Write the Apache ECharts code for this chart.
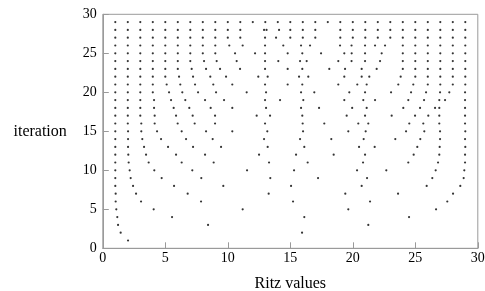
<!DOCTYPE html>
<html>
<head>
<meta charset="utf-8">
<script src="https://cdn.jsdelivr.net/npm/echarts@6/dist/echarts.min.js"></script>
<style>html,body{margin:0;padding:0;background:#fff}#c{width:485px;height:291px}</style>
</head>
<body>
<div id="c"></div>
<script>
const xTicks = [0, 5, 10, 15, 20, 25, 30];
const yTicks = [0, 5, 10, 15, 20, 25, 30];
const it1 = [2.02];
const it2 = [1.43, 15.94];
const it3 = [1.22, 8.42, 21.24];
const it4 = [1.16, 5.54, 16.12, 24.5];
const it5 = [1.08, 4.07, 11.19, 19.64, 26.66];
const it6 = [1.03, 3.06, 7.86, 15.22, 21.38, 27.56];
const it7 = [1.03, 2.66, 6.79, 13.27, 19.40, 23.62, 28.02];
const it8 = [1.0, 2.42, 5.70, 9.64, 15.06, 20.71, 25.91, 28.6];
const it9 = [1.0, 2.23, 4.71, 7.88, 13.40, 17.22, 21.14, 26.36, 28.87];
const it10 = [1.0, 2.15, 4.12, 7.16, 11.54, 15.30, 20.34, 22.68, 26.63, 28.92];
const it11 = [1.0, 2.07, 3.67, 6.31, 8.87, 13.30, 16.39, 20.82, 24.44, 26.82, 28.98];
const it12 = [1.0, 2.04, 3.46, 5.86, 8.18, 12.50, 15.46, 18.47, 20.98, 24.87, 26.92, 28.98];
const it13 = [1.0, 2.02, 3.30, 5.22, 7.22, 9.46, 13.19, 16.12, 20.50, 21.75, 25.16, 26.95, 29.0];
const it14 = [1.0, 2.02, 3.16, 4.66, 6.66, 8.79, 12.90, 15.78, 18.28, 20.87, 23.40, 25.40, 26.98, 28.98];
const it15 = [1.0, 2.02, 3.08, 4.34, 6.31, 8.26, 10.36, 13.16, 16.02, 19.64, 21.03, 24.26, 25.72, 26.98, 29.0];
const it16 = [1, 2, 3.08, 4.15, 5.99, 7.35, 8.98, 12.98, 15.99, 17.72, 20.44, 21.24, 24.52, 25.64, 26.92, 28.98];
const it17 = [1, 2, 3, 4.15, 5.86, 7.19, 8.98, 12.31, 13.38, 15.96, 19.51, 20.98, 23.11, 24.98, 26.04, 26.92, 28.98];
const it18 = [1, 2, 3, 4.10, 5.67, 6.92, 8.63, 10.36, 13.06, 15.86, 17.30, 19.95, 21.11, 24.04, 25.38, 26.58, 26.92, 28.98];
const it19 = [1, 2, 3, 4.10, 5.46, 6.60, 8.18, 9.70, 12.98, 14.18, 16.04, 19.32, 20.84, 21.78, 24.44, 25.70, 26.92, 27.38, 28.98];
const it20 = [1, 2, 3, 4, 5.30, 6.36, 7.62, 9.06, 11.51, 13.06, 15.86, 16.92, 19.72, 20.98, 23.06, 24.66, 25.86, 26.98, 27.72, 28.98];
const it21 = [1, 2, 3, 4, 5.11, 6.20, 7.38, 8.84, 10.36, 12.98, 14.79, 15.96, 18.84, 20.36, 21.11, 23.64, 24.84, 26, 27, 28, 29];
const it22 = [1, 2, 3, 4, 5, 6.10, 7.22, 8.60, 9.86, 12.44, 13.19, 15.70, 16.44, 19.32, 20.71, 21.32, 23.83, 25, 26, 27, 28, 29];
const it23 = [1, 2, 3, 4, 5, 6, 7.11, 8.26, 9.38, 10.98, 12.98, 14.79, 15.96, 18.12, 19.38, 20.71, 21.91, 24, 25, 26, 27, 28, 29];
const it24 = [1, 2, 3, 4, 5, 6, 7, 8.1, 9.11, 10.71, 12.98, 14.04, 15.78, 16.31, 18.84, 19.9, 20.98, 22.18, 24, 25, 26, 27, 28, 29];
const it25 = [1, 2, 3, 4, 5, 6, 7, 8, 9, 10.58, 12.18, 12.98, 14.79, 15.96, 17.46, 19.32, 19.91, 20.98, 22.31, 24, 25, 26, 27, 28, 29];
const it26 = [1, 2, 3, 4, 5, 6, 7, 8, 9, 10.12, 11.19, 12.98, 14.44, 15.86, 16.58, 18.98, 19.9, 20.98, 21.78, 22.58, 24, 25, 26, 27, 28, 29];
const it27 = [1, 2, 3, 4, 5, 6, 7, 8, 9, 10, 11, 12.98, 13.86, 15, 16, 17, 19, 20, 21, 22, 23, 24, 25, 26, 27, 28, 29];
const it28 = [1, 2, 3, 4, 5, 6, 7, 8, 9, 10, 11, 12.9, 13.1, 14.1, 15, 16, 17, 19, 20, 21, 22, 23, 24, 25, 26, 27, 28, 29];
const it29 = [1, 2, 3, 4, 5, 6, 7, 8, 9, 10, 11, 12, 13, 14, 15, 16, 17, 18, 19, 20, 21, 22, 23, 24, 25, 26, 27, 28, 29];

const iterations = [it1, it2, it3, it4, it5, it6, it7, it8, it9, it10, it11, it12, it13, it14, it15,
  it16, it17, it18, it19, it20, it21, it22, it23, it24, it25, it26, it27, it28, it29];

const points = [];
iterations.forEach((vals, k) => { vals.forEach(v => points.push([v, k + 1])); });

const FONT = 'Liberation Serif';
const frame = '#9a9a9a';
const chart = echarts.init(document.getElementById('c'), null, {renderer: 'canvas'});
chart.setOption({
  animation: false,
  backgroundColor: '#fff',
  grid: {left: 102.8, right: 7.2, top: 14.3, bottom: 42.7, show: true, borderColor: frame, borderWidth: 1, outerBoundsMode: 'none', containLabel: false},
  xAxis: {
    type: 'value', min: xTicks[0], max: xTicks[xTicks.length - 1], interval: 5,
    name: 'Ritz values', nameLocation: 'middle', nameGap: 27,
    nameTextStyle: {fontFamily: FONT, fontSize: 16, color: '#000'},
    axisLine: {show: true, lineStyle: {color: frame, width: 1}},
    axisTick: {show: true, inside: true, length: 6, lineStyle: {color: frame}},
    axisLabel: {fontFamily: FONT, fontSize: 14, color: '#000', margin: 3},
    splitLine: {show: false}
  },
  yAxis: {
    type: 'value', min: yTicks[0], max: yTicks[yTicks.length - 1], interval: 5,
    name: 'iteration', nameLocation: 'middle', nameRotate: 0, nameGap: 36,
    nameTextStyle: {fontFamily: FONT, fontSize: 16, color: '#000'},
    axisLine: {show: true, lineStyle: {color: frame, width: 1}},
    axisTick: {show: true, inside: true, length: 6, lineStyle: {color: frame}},
    axisLabel: {fontFamily: FONT, fontSize: 14, color: '#000', margin: 6},
    splitLine: {show: false}
  },
  series: [{
    type: 'scatter', data: points, symbol: 'circle', symbolSize: 2.2,
    itemStyle: {color: '#000'}
  }]
});
</script>
</body>
</html>
